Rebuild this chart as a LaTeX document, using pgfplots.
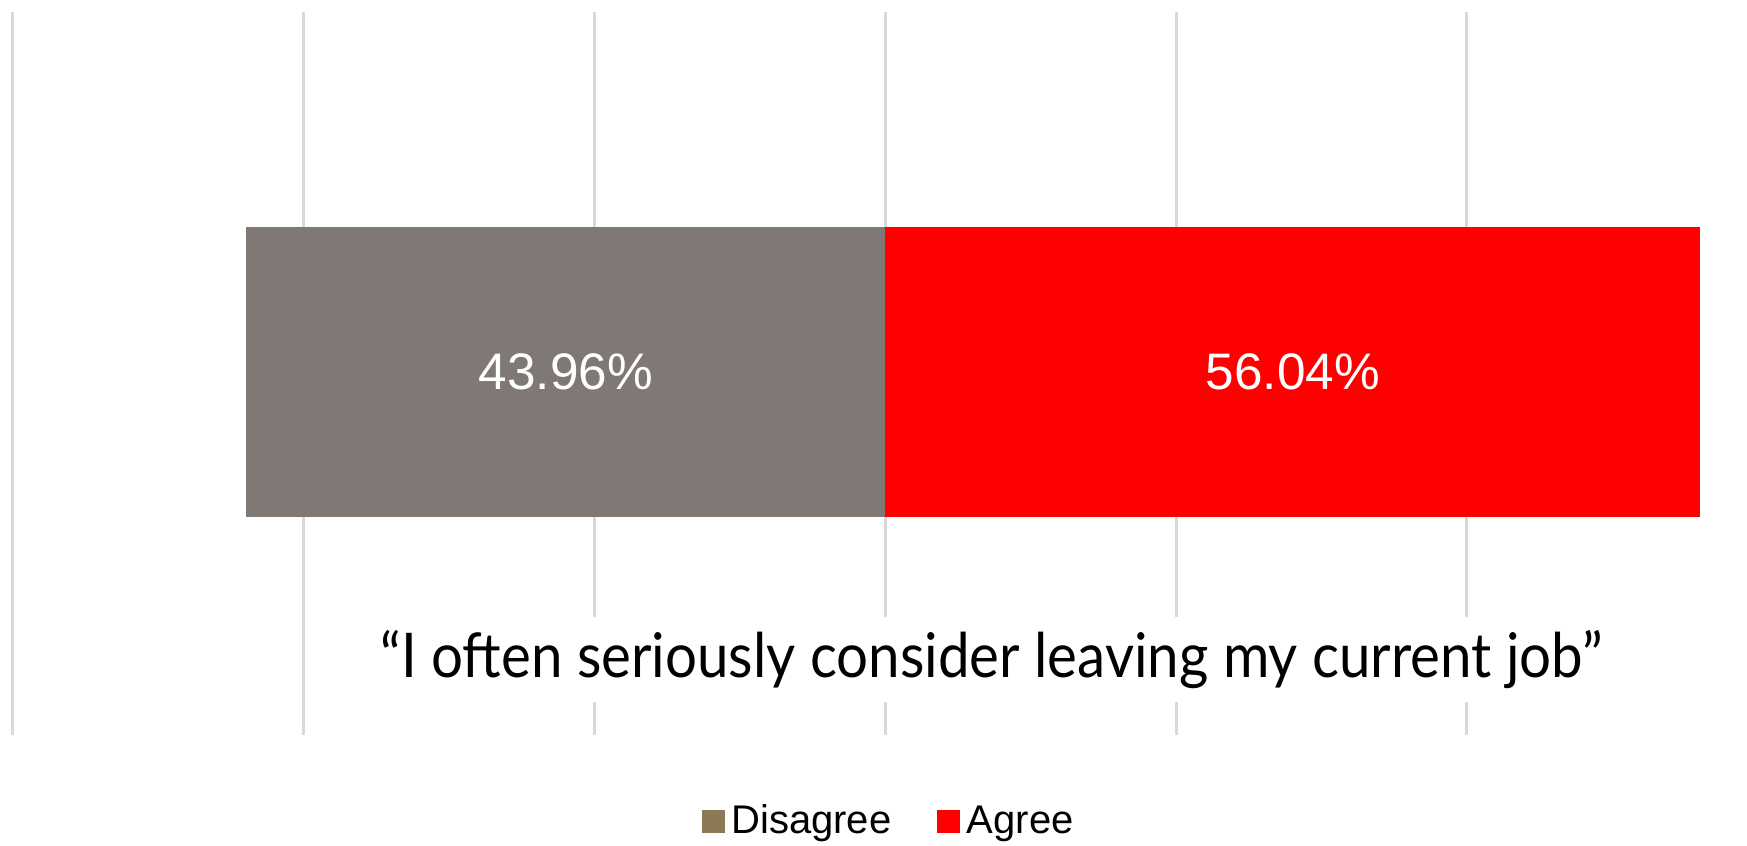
\documentclass[border=0pt]{standalone}
\usepackage{graphicx}
\usepackage{pgfplots}
\pgfplotsset{compat=1.18}
\usepackage{fontspec}
\setmainfont{Liberation Sans}
\newfontfamily\quotefont{Lato}
\definecolor{disgray}{HTML}{807874}
\definecolor{disleg}{HTML}{8C7A57}
\definecolor{agreered}{HTML}{FF0000}
\definecolor{gridgray}{HTML}{D9D9D9}
\begin{document}
\begin{tikzpicture}
\begin{axis}[
  at={(0,0)}, anchor=south west,
  scale only axis, width=524.1pt, height=216.9pt,
  xmin=-60.894, xmax=59.26, ymin=0, ymax=723,
  xtick={-60,-40,-20,0,20,40,60}, xticklabels={}, ytick=\empty,
  xmajorgrids, grid style={gridgray, line width=0.9pt},
  axis line style={draw=none}, major tick length=0pt,
  xbar, bar width=87pt, bar shift=0pt,
  clip=false,
  legend style={at={(0.510,-0.1203)}, anchor=center, draw=none, fill=none,
    legend columns=2, font=\fontsize{12}{14}\selectfont,
    /tikz/every even column/.append style={column sep=11.7pt}, inner sep=0pt},
  legend image code/.code={\fill[#1] (0pt,-3.45pt) rectangle (6.9pt,3.45pt);},
]
\addplot[fill=disgray, draw=none, forget plot] coordinates {(-43.96,363)};
\addplot[fill=agreered, draw=none, forget plot] coordinates {(56.04,363)};
\addlegendimage{fill=disleg, draw=none}\addlegendentry{Disagree}
\addlegendimage{fill=agreered, draw=none}\addlegendentry{Agree}
\node[text=white, font=\fontsize{15.4}{18}\selectfont] at (axis cs:-21.98,363) {43.96\%};
\node[text=white, font=\fontsize{15.4}{18}\selectfont] at (axis cs:28.02,363) {56.04\%};
\node[fill=white, anchor=base, inner xsep=4pt, inner ysep=0pt, text height=18.3pt, text depth=7.2pt,
  font=\quotefont\fontsize{18.5}{22}\selectfont] at (axis cs:7.30,57) {\scalebox{0.915}[1]{“I often seriously consider leaving my current job”}};
\end{axis}
\pgfresetboundingbox
\useasboundingbox (0,-33.3pt) rectangle (524.1pt,220.5pt);
\end{tikzpicture}
\end{document}
